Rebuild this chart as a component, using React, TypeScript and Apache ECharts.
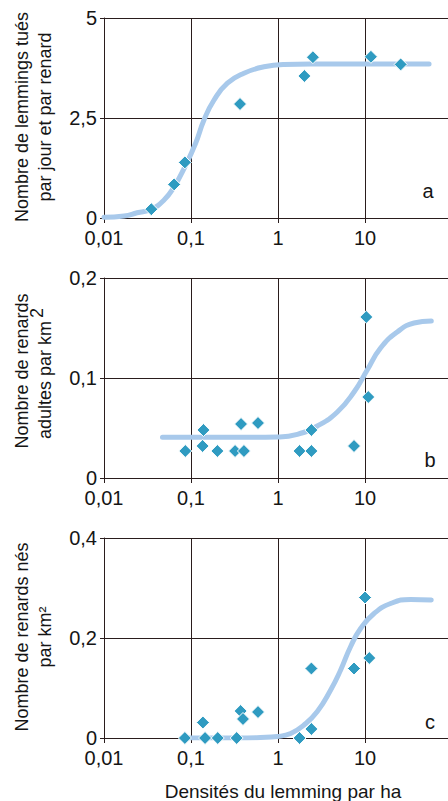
import React, { useEffect, useRef } from 'react';
import * as echarts from 'echarts';

// ---- tick labels ----
const xTickLabels = ['0,01', '0,1', '1', '10'];

// ---- panel a : lemmings killed per day per fox ----
const densA = [0.035, 0.064, 0.085, 0.366, 2.01, 2.52, 11.7, 25.7];
const killsA = [0.22, 0.84, 1.39, 2.85, 3.55, 4.02, 4.03, 3.84];
const curveAx = [0.01, 0.017, 0.024, 0.035, 0.049, 0.064, 0.085, 0.113, 0.141, 0.184, 0.262, 0.406, 0.69, 1.17, 2.37, 54.5];
const curveAy = [0.02, 0.05, 0.13, 0.22, 0.45, 0.78, 1.28, 1.87, 2.45, 2.95, 3.37, 3.62, 3.78, 3.84, 3.85, 3.85];

// ---- panel b : adult foxes per km2 ----
const densB = [0.086, 0.136, 0.139, 0.201, 0.321, 0.376, 0.406, 0.589, 1.77, 2.42, 2.42, 7.48, 10.35, 10.9];
const foxB = [0.027, 0.032, 0.048, 0.027, 0.027, 0.054, 0.027, 0.055, 0.027, 0.027, 0.048, 0.032, 0.161, 0.081];
const curveBx = [0.047, 0.141, 0.53, 0.98, 1.67, 2.83, 4.81, 7.48, 10.6, 15.1, 23.5, 36.6, 57.8];
const curveBy = [0.0407, 0.0407, 0.0407, 0.041, 0.0437, 0.052, 0.066, 0.086, 0.108, 0.13, 0.146, 0.155, 0.157];

// ---- panel c : foxes born per km2 ----
const densC = [0.085, 0.137, 0.145, 0.203, 0.335, 0.372, 0.396, 0.589, 1.77, 2.42, 2.42, 7.48, 10.0, 11.2];
const foxC = [0, 0.031, 0, 0, 0, 0.054, 0.038, 0.052, 0, 0.018, 0.139, 0.139, 0.281, 0.16];
const curveCx = [0.078, 0.34, 0.63, 0.98, 1.4, 1.99, 2.83, 4.03, 5.25, 6.84, 8.9, 12.7, 19.7, 33.5, 57.8];
const curveCy = [0, 0, 0.001, 0.003, 0.009, 0.026, 0.053, 0.096, 0.136, 0.183, 0.219, 0.249, 0.269, 0.277, 0.276];

const yMax = [5, 0.2, 0.4];
const yInterval = [2.5, 0.1, 0.2];
const panelLetters = ['a', 'b', 'c'];

const GRID_COLOR = '#2a1d1d';
const DOT_COLOR = '#2f9bc1';
const CURVE_COLOR = '#a8c9eb';
const TEXT_COLOR = '#151515';
const NARROW = "'Liberation Sans Narrow', 'Liberation Sans', Arial, sans-serif";
const SANS = "'Liberation Sans', Arial, sans-serif";

const zip = (xs: number[], ys: number[]) => xs.map((x, i) => [x, ys[i]]);

export default function App() {
  const ref = useRef<HTMLDivElement>(null);

  useEffect(() => {
    const chart = echarts.init(ref.current!, null, { renderer: 'svg' });
    const tops = [18, 278, 538];

    const xFormatter = (v: number) => {
      const l = Math.log10(v);
      const e = Math.round(l);
      if (Math.abs(l - e) > 1e-6) return '';
      return xTickLabels[e + 2] ?? '';
    };
    const yFormatter = (v: number) => String(Number(v.toFixed(3))).replace('.', ',');

    const grids = tops.map((t) => ({ left: 104, top: t, width: 348, height: 200 }));
    const xAxes = tops.map((_, i) => ({
      type: 'log',
      logBase: 10,
      min: 0.01,
      max: 100,
      gridIndex: i,
      axisLine: { show: true, lineStyle: { color: GRID_COLOR, width: 1 } },
      axisTick: { show: true, length: 5, lineStyle: { color: GRID_COLOR } },
      minorTick: { show: false },
      splitLine: { show: true, lineStyle: { color: GRID_COLOR, width: 1 } },
      axisLabel: { formatter: xFormatter, fontFamily: NARROW, fontSize: 20, color: TEXT_COLOR, margin: 10 },
    }));
    const yAxes = tops.map((_, i) => ({
      type: 'value',
      min: 0,
      max: yMax[i],
      interval: yInterval[i],
      gridIndex: i,
      axisLine: { show: true, lineStyle: { color: GRID_COLOR, width: 1 } },
      axisTick: { show: true, length: 4, lineStyle: { color: GRID_COLOR } },
      splitLine: { show: true, lineStyle: { color: GRID_COLOR, width: 1 } },
      axisLabel: { formatter: yFormatter, fontFamily: NARROW, fontSize: 20, color: TEXT_COLOR, margin: 7 },
    }));

    const curves = [zip(curveAx, curveAy), zip(curveBx, curveBy), zip(curveCx, curveCy)];
    const points = [zip(densA, killsA), zip(densB, foxB), zip(densC, foxC)];

    const series: any[] = [];
    for (let i = 0; i < 3; i++) {
      series.push({
        type: 'line',
        xAxisIndex: i,
        yAxisIndex: i,
        data: curves[i],
        smooth: 0.5,
        showSymbol: false,
        symbol: 'none',
        lineStyle: { color: CURVE_COLOR, width: 5, cap: 'round', join: 'round' },
        z: 2,
      });
      series.push({
        type: 'scatter',
        xAxisIndex: i,
        yAxisIndex: i,
        data: points[i],
        symbol: 'diamond',
        symbolSize: 13,
        itemStyle: { color: DOT_COLOR, borderColor: '#ffffff', borderWidth: 1, opacity: 1 },
        z: 3,
      });
    }

    const titleStyle = (text: string) => ({
      text,
      font: `18px ${SANS}`,
      fill: TEXT_COLOR,
      align: 'center',
      verticalAlign: 'middle',
      lineHeight: 23,
    });

    const graphic: any[] = [
      { type: 'text', x: 33, y: 117, rotation: Math.PI / 2, style: titleStyle('Nombre de lemmings tués\npar jour et par renard') },
      { type: 'text', x: 22, y: 371, rotation: Math.PI / 2, style: titleStyle('Nombre de renards') },
      { type: 'text', x: 45, y: 380, rotation: Math.PI / 2, style: titleStyle('adultes par km') },
      { type: 'text', x: 37, y: 313, rotation: Math.PI / 2, style: { text: '2', font: `18px ${SANS}`, fill: TEXT_COLOR, align: 'center', verticalAlign: 'middle' } },
      { type: 'text', x: 33, y: 637, rotation: Math.PI / 2, style: titleStyle('Nombre de renards nés\npar km²') },
      { type: 'text', x: 283, y: 791, style: { text: 'Densités du lemming par ha', font: `19px ${SANS}`, fill: TEXT_COLOR, align: 'center', verticalAlign: 'middle' } },
      { type: 'text', x: 428, y: 191, style: { text: panelLetters[0], font: `20px ${SANS}`, fill: TEXT_COLOR, align: 'center', verticalAlign: 'middle' } },
      { type: 'text', x: 430, y: 460, style: { text: panelLetters[1], font: `20px ${SANS}`, fill: TEXT_COLOR, align: 'center', verticalAlign: 'middle' } },
      { type: 'text', x: 430, y: 722, style: { text: panelLetters[2], font: `20px ${SANS}`, fill: TEXT_COLOR, align: 'center', verticalAlign: 'middle' } },
    ];

    chart.setOption({
      animation: false,
      backgroundColor: '#ffffff',
      grid: grids,
      xAxis: xAxes,
      yAxis: yAxes,
      series,
      graphic,
    });

    return () => chart.dispose();
  }, []);

  return (
    <div style={{ position: 'absolute', left: 0, top: 0, width: 448, height: 801, overflow: 'hidden', background: '#fff' }}>
      <div ref={ref} style={{ width: 470, height: 801 }} />
    </div>
  );
}
